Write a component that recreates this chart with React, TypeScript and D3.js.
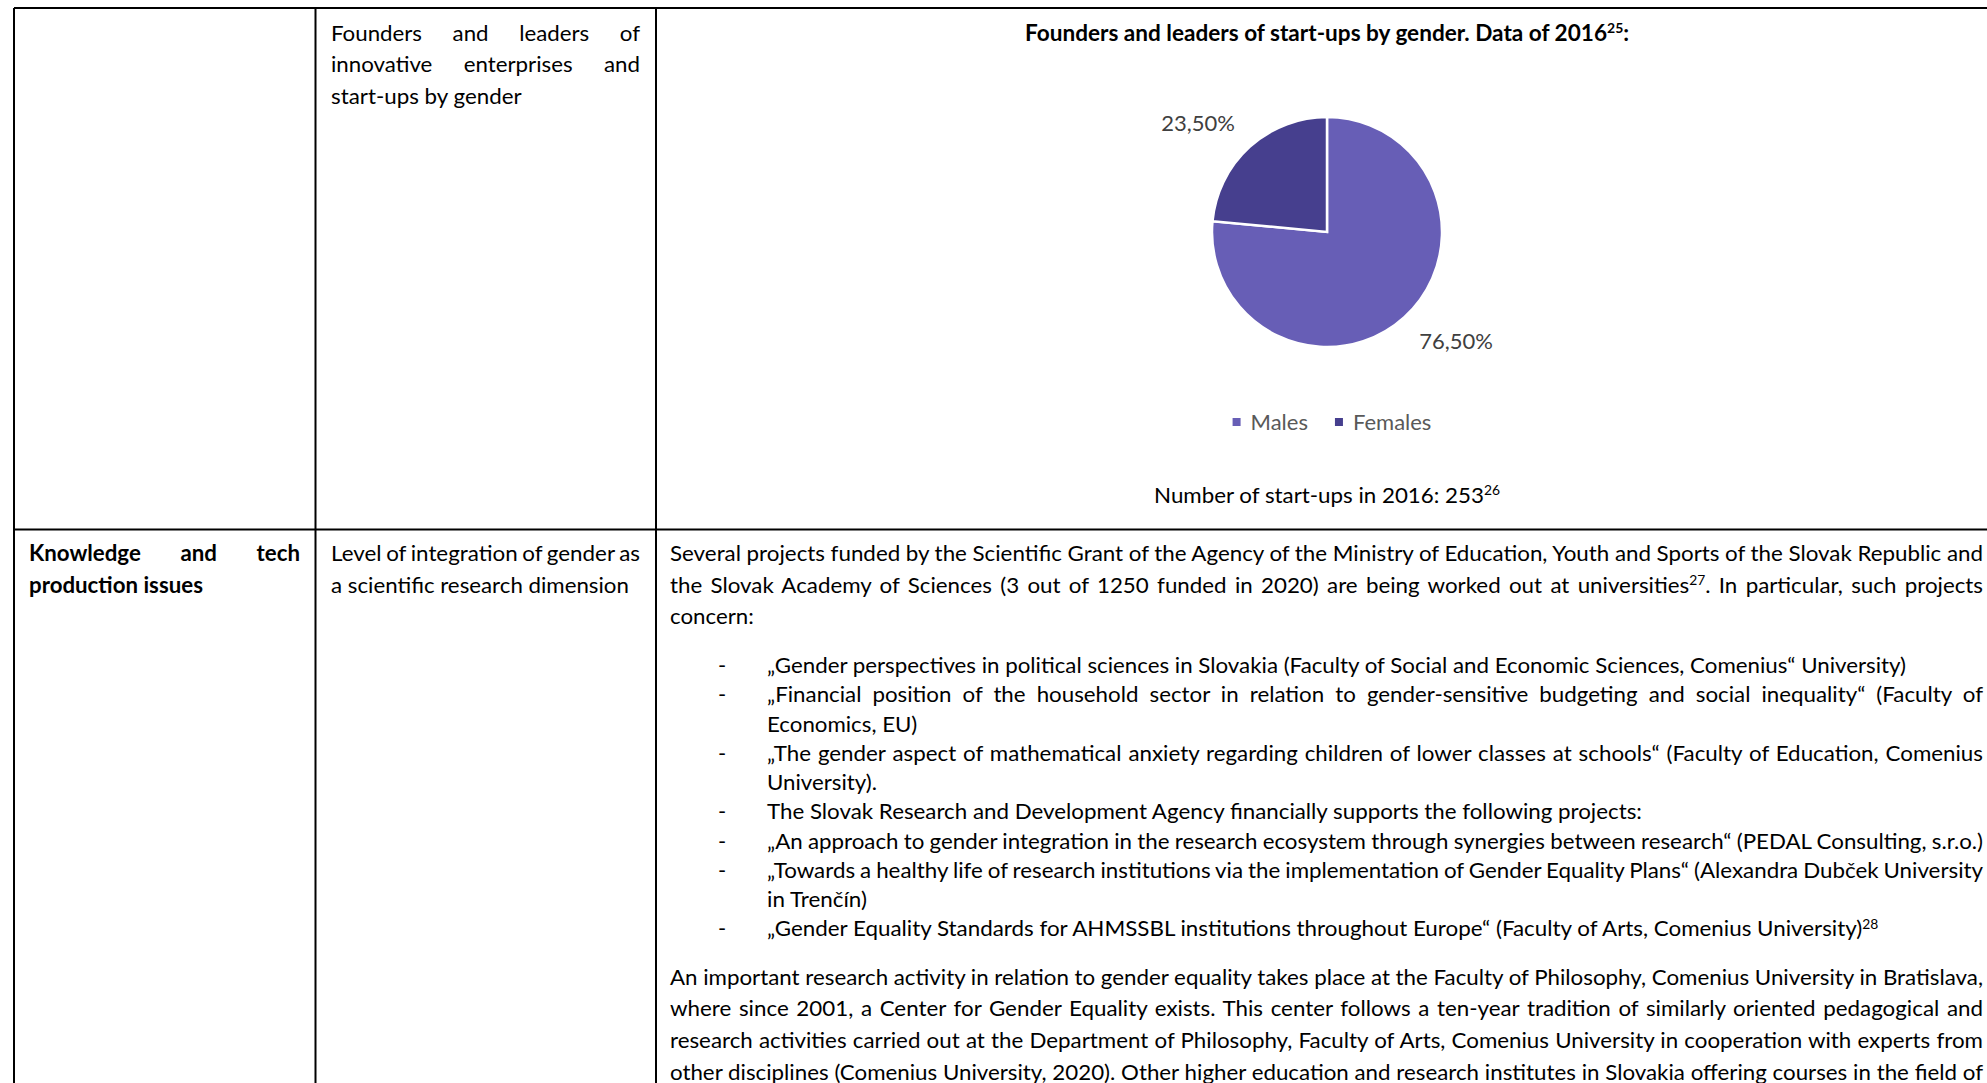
import React from "react";
import * as d3 from "d3";

// ---------- chart data ----------
const categories = ["Males", "Females"];
const shares = [76.5, 23.5];
const shareLabels = ["76,50%", "23,50%"];
const sliceColors = ["#675EB6", "#463F8E"];

const chartTitle = "Founders and leaders of start-ups by gender. Data of 2016^25^:";
const chartNote = "Number of start-ups in 2016: 253^26^";

// ---------- table text ----------
const row1Col2 = ["Founders and leaders of", "innovative enterprises and", "start-ups by gender"];
const row2Col1 = ["Knowledge and tech", "production issues"];
const row2Col2 = ["Level of integration of gender as", "a scientific research dimension"];
const introLines = [
  "Several projects funded by the Scientific Grant of the Agency of the Ministry of Education, Youth and Sports of the Slovak Republic and",
  "the Slovak Academy of Sciences (3 out of 1250 funded in 2020) are being worked out at universities^27^. In particular, such projects",
  "concern:",
];
const listLines = [
  "„Gender perspectives in political sciences in Slovakia (Faculty of Social and Economic Sciences, Comenius“ University)",
  "„Financial position of the household sector in relation to gender-sensitive budgeting and social inequality“ (Faculty of",
  "Economics, EU)",
  "„The gender aspect of mathematical anxiety regarding children of lower classes at schools“ (Faculty of Education, Comenius",
  "University).",
  "The Slovak Research and Development Agency financially supports the following projects:",
  "„An approach to gender integration in the research ecosystem through synergies between research“ (PEDAL Consulting, s.r.o.)",
  "„Towards a healthy life of research institutions via the implementation of Gender Equality Plans“ (Alexandra Dubček University",
  "in Trenčín)",
  "„Gender Equality Standards for AHMSSBL institutions throughout Europe“ (Faculty of Arts, Comenius University)^28^",
];
const listBullets = [true, true, false, true, false, true, true, true, false, true];
const closingLines = [
  "An important research activity in relation to gender equality takes place at the Faculty of Philosophy, Comenius University in Bratislava,",
  "where since 2001, a Center for Gender Equality exists. This center follows a ten-year tradition of similarly oriented pedagogical and",
  "research activities carried out at the Department of Philosophy, Faculty of Arts, Comenius University in cooperation with experts from",
  "other disciplines (Comenius University, 2020). Other higher education and research institutes in Slovakia offering courses in the field of",
];

// which lines are justified (stretched to the cell's right edge)
const row1Col2Just = [true, true, false];
const row2Col1Just = [true, false];
const row2Col2Just = [true, false];
const introJust = [true, true, false];
const listJust = [false, true, false, true, false, false, true, true, false, false];
const closingJust = [true, true, true, true];

// ---------- layout ----------
const W = 1987;
const H = 1083;
const FONT = "Lato, 'Open Sans', sans-serif";
const BODY = 22;
const SUP = 0.62;

const leftX = 14;
const col1X = 315.5;
const col2X = 656;
const topY = 8;
const rowY = 529.5;

const c1Left = 29;
const c1Right = 300;
const c2Left = 331;
const c2Right = 640;
const c3Left = 670;
const c3Right = 1983;
const listDashX = 718;
const listTextX = 767;
// reference width of the first list line, used to calibrate the glyph width
const refListEnd = 1906;

const ctx = document.createElement("canvas").getContext("2d")!;
function measureRaw(text: string, size: number, bold: boolean) {
  ctx.font = `${bold ? 700 : 400} ${size}px ${FONT}`;
  return ctx.measureText(text).width;
}
function measure(text: string, size = BODY, bold = false) {
  const parts = text.split(/\^(\d+)\^/);
  let w = 0;
  parts.forEach((p, i) => {
    if (!p) return;
    w += measureRaw(p, i % 2 === 1 ? size * SUP : size, bold);
  });
  return w;
}

const K = (refListEnd - listTextX) / measure(listLines[0]);

function Line({ x, y, text, bold = false, size = BODY, fill = "#000", justifyTo, k = K }: any) {
  const parts = text.split(/\^(\d+)\^/);
  const sup = size * 0.36;
  const nat = measure(text, size, bold);
  let ws = 0;
  let len = nat * k;
  if (justifyTo !== undefined) {
    const spaces = (text.match(/ /g) || []).length;
    len = justifyTo - x;
    if (spaces > 0) ws = (len / k - nat) / spaces;
  }
  const kids: any[] = [];
  parts.forEach((p: string, i: number) => {
    if (!p) return;
    if (i % 2 === 1) {
      kids.push(
        <tspan key={i} fontSize={size * SUP} dy={-sup}>
          {p}
        </tspan>
      );
    } else {
      kids.push(
        <tspan key={i} dy={i > 0 ? sup : 0}>
          {p}
        </tspan>
      );
    }
  });
  return (
    <text
      x={x}
      y={y}
      fontFamily={FONT}
      fontSize={size}
      fontWeight={bold ? 700 : 400}
      fill={fill}
      wordSpacing={ws}
      textLength={len}
      lengthAdjust="spacingAndGlyphs"
    >
      {kids}
    </text>
  );
}

export default function App() {
  // pie
  const cx = 1327;
  const cy = 232;
  const R = 115;
  const pie = d3
    .pie<number>()
    .sort(null)
    .value((d) => d)(shares);
  const arc = d3.arc<any>().innerRadius(0).outerRadius(R);
  const labelR = 137;

  // legend
  const LEG = 22;
  const legendWidths = categories.map((c) => measureRaw(c, LEG, false));
  const sq = 8;
  const gapSq = 10;
  const gapItem = 27;
  const itemW = legendWidths.map((w) => sq + gapSq + w);
  const legendTotal = d3.sum(itemW) + gapItem * (categories.length - 1);
  let lx = cx + 5 - legendTotal / 2;
  const legendItems = categories.map((c, i) => {
    const x0 = lx;
    lx += itemW[i] + gapItem;
    return { c, x0, i };
  });

  const row1Y = 40.5;
  const introY = 561;
  const paraStep = 31.7;
  const listY = 673;
  const listStep = 29.27;
  const closeY = 984.5;

  const titleK = K * 1.012;
  const titleW = measure(chartTitle, BODY, true) * titleK;
  const noteW = measure(chartNote) * K;

  return (
    <svg
      width={W}
      height={H}
      style={{ position: "absolute", left: 0, top: 0, display: "block", background: "#fff" }}
    >
      <rect x={0} y={0} width={W} height={H} fill="#fff" />

      {/* table grid */}
      <g stroke="#000" strokeWidth={2}>
        <line x1={leftX} x2={W} y1={topY} y2={topY} />
        <line x1={leftX} x2={W} y1={rowY} y2={rowY} />
        <line x1={leftX} x2={leftX} y1={topY} y2={H} />
        <line x1={col1X} x2={col1X} y1={topY} y2={H} />
        <line x1={col2X} x2={col2X} y1={topY} y2={H} />
      </g>

      {/* row 1, column 2 */}
      {row1Col2.map((t, i) => (
        <Line key={"r1" + i} x={c2Left} y={row1Y + i * paraStep} text={t} justifyTo={row1Col2Just[i] ? c2Right : undefined} />
      ))}

      {/* chart title */}
      <Line x={cx - titleW / 2} y={row1Y} text={chartTitle} bold k={titleK} />

      {/* pie */}
      <g transform={`translate(${cx},${cy})`}>
        {pie.map((p, i) => (
          <path key={i} d={arc(p) as string} fill={sliceColors[i]} stroke="#fff" strokeWidth={2.5} strokeLinejoin="miter" />
        ))}
        {pie.map((p, i) => {
          const a = (p.startAngle + p.endAngle) / 2;
          const px = labelR * Math.sin(a);
          const py = -labelR * Math.cos(a);
          const right = Math.sin(a) >= 0;
          const below = Math.cos(a) < 0;
          return (
            <text
              key={"l" + i}
              x={px}
              y={below ? py + 16 : py}
              textAnchor={right ? "start" : "end"}
              fontFamily={FONT}
              fontSize={22}
              fill="#404040"
            >
              {shareLabels[i]}
            </text>
          );
        })}
      </g>

      {/* legend */}
      {legendItems.map(({ c, x0, i }) => (
        <g key={c}>
          <rect x={x0} y={418} width={sq} height={sq} fill={sliceColors[i]} />
          <text x={x0 + sq + gapSq} y={429.5} fontFamily={FONT} fontSize={LEG} fill="#595959">
            {c}
          </text>
        </g>
      ))}

      {/* chart note */}
      <Line x={cx - noteW / 2} y={503} text={chartNote} />

      {/* row 2 */}
      {row2Col1.map((t, i) => (
        <Line key={"a" + i} x={c1Left} y={introY + i * paraStep} text={t} bold justifyTo={row2Col1Just[i] ? c1Right : undefined} />
      ))}
      {row2Col2.map((t, i) => (
        <Line key={"b" + i} x={c2Left} y={introY + i * paraStep} text={t} justifyTo={row2Col2Just[i] ? c2Right : undefined} />
      ))}
      {introLines.map((t, i) => (
        <Line key={"c" + i} x={c3Left} y={introY + i * paraStep} text={t} justifyTo={introJust[i] ? c3Right : undefined} />
      ))}
      {listLines.map((t, i) => (
        <g key={"d" + i}>
          {listBullets[i] && (
            <text x={listDashX} y={listY + i * listStep} fontFamily={FONT} fontSize={BODY} fill="#000">
              -
            </text>
          )}
          <Line x={listTextX} y={listY + i * listStep} text={t} justifyTo={listJust[i] ? c3Right : undefined} />
        </g>
      ))}
      {closingLines.map((t, i) => (
        <Line key={"e" + i} x={c3Left} y={closeY + i * paraStep} text={t} justifyTo={closingJust[i] ? c3Right : undefined} />
      ))}
    </svg>
  );
}
